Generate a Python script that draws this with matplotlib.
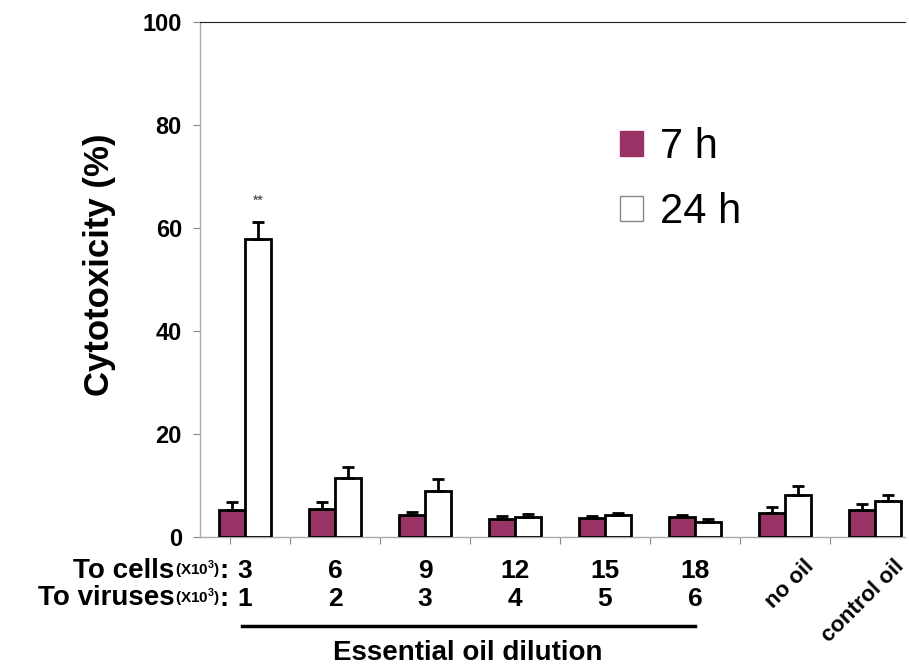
import matplotlib
matplotlib.use('Agg')
import matplotlib.pyplot as plt
import numpy as np
from matplotlib.patches import Patch
from matplotlib.lines import Line2D

# data
groups = ['3', '6', '9', '12', '15', '18', 'no oil', 'control oil']
cells = ['3', '6', '9', '12', '15', '18']
viruses = ['1', '2', '3', '4', '5', '6']
h7 = [5.2, 5.4, 4.3, 3.5, 3.7, 3.9, 4.6, 5.2]
h7_err = [1.6, 1.4, 0.5, 0.6, 0.4, 0.4, 1.2, 1.2]
h24 = [57.9, 11.5, 8.9, 3.8, 4.3, 3.0, 8.2, 6.9]
h24_err = [3.3, 2.0, 2.4, 0.7, 0.4, 0.4, 1.8, 1.2]
yticks = [0, 20, 40, 60, 80, 100]

purple = '#993366'
plt.rcParams['font.family'] = ['Liberation Sans', 'DejaVu Sans']

fig = plt.figure(figsize=(9.09, 6.66), dpi=100)
ax = fig.add_axes([200/909, 1 - 537/666, 705/909, 515/666])

x = np.arange(len(groups))
w = 0.29
ax.bar(x - w/2, h7, w, color=purple, edgecolor='black', linewidth=2.0,
       yerr=[np.zeros(len(h7)), h7_err], capsize=4,
       error_kw=dict(elinewidth=2.0, capthick=2.0, ecolor='black'), zorder=3)
ax.bar(x + w/2, h24, w, color='white', edgecolor='black', linewidth=2.0,
       yerr=[np.zeros(len(h24)), h24_err], capsize=4,
       error_kw=dict(elinewidth=2.0, capthick=2.0, ecolor='black'), zorder=3)

# significance mark over the 24 h bar of the first dilution
ax.text(x[0] + w/2, h24[0] + h24_err[0] + 2.8, '**', ha='center', va='bottom',
        fontsize=10, color='#333333')

ax.set_xlim(-0.5, 7.333)
ax.set_ylim(0, 100)
ax.set_yticks(yticks)
ax.set_yticklabels([str(v) for v in yticks], fontweight='bold', fontsize=17)
ax.tick_params(axis='y', length=5, color='#888888', pad=8)
ax.set_xticks([-0.17] + [i + 0.5 for i in range(7)])
ax.set_xticklabels([])
ax.tick_params(axis='x', length=5, color='#888888')
for s in ['left', 'bottom']:
    ax.spines[s].set_color('#aaaaaa')
    ax.spines[s].set_linewidth(1)
ax.spines['right'].set_visible(False)
ax.spines['top'].set_color('#222222')
ax.spines['top'].set_linewidth(0.8)

fig.text(100/909, 1 - 265/666, 'Cytotoxicity (%)', rotation=90, ha='center',
         va='center', fontsize=25, fontweight='bold')

handles = [Patch(facecolor=purple, edgecolor=purple),
           Patch(facecolor='white', edgecolor='#888888')]
ax.legend(handles, ['7 h', '24 h'], loc='upper left',
          bbox_to_anchor=(620/909, 1 - 127/666), bbox_transform=fig.transFigure,
          frameon=False, fontsize=30, handlelength=0.55, handleheight=0.55,
          handletextpad=0.4, labelspacing=0.6, borderpad=0, borderaxespad=0)

# bottom label rows
tr = ax.get_xaxis_transform()
row_y = [-0.066, -0.12]
for i, lab in enumerate(cells):
    ax.text(x[i], row_y[0], lab, transform=tr, ha='center', va='center',
            fontsize=19, fontweight='bold')
for i, lab in enumerate(viruses):
    ax.text(x[i], row_y[1], lab, transform=tr, ha='center', va='center',
            fontsize=19, fontweight='bold')
for ry, head in zip(row_y, ['To cells', 'To viruses']):
    colon = ax.text(-0.18, ry, ':', transform=tr, ha='right', va='center',
                    fontsize=20, fontweight='bold')
    small = ax.annotate('(X10$^{\\mathregular{3}}$)', xy=(0, 0.1), xycoords=colon,
                        ha='right', va='bottom', fontsize=11, fontweight='bold')
    ax.annotate(head, xy=(0, -0.1), xycoords=small, ha='right', va='bottom',
                fontsize=20, fontweight='bold')

for i in [6, 7]:
    ax.text(x[i] + 0.37, -0.037, groups[i], transform=tr, ha='right', va='top',
            rotation=45, fontsize=16, fontweight='bold')

ax.add_line(Line2D([-0.03, 5.0], [-0.173, -0.173], transform=tr, color='black',
                   linewidth=2.5, clip_on=False))
ax.text(2.48, -0.226, 'Essential oil dilution', transform=tr, ha='center',
        va='center', fontsize=20, fontweight='bold')

fig.savefig('out.png', dpi=100)
